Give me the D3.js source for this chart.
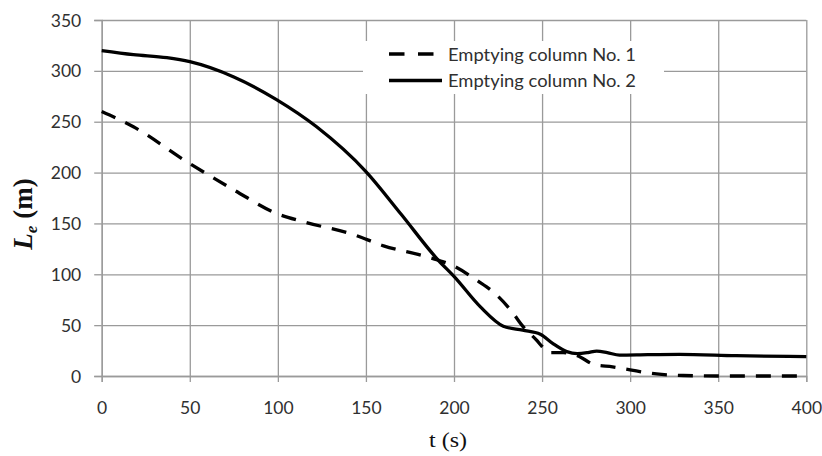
<!DOCTYPE html>
<html>
<head>
<meta charset="utf-8">
<script src="https://cdn.jsdelivr.net/npm/d3@7"></script>
<style>
  html, body { margin: 0; padding: 0; background: #fff; }
  svg { display: block; }
</style>
</head>
<body>
<svg id="chart" width="822" height="456"></svg>
<script>
// ---- data ----
const xTicks = [0, 50, 100, 150, 200, 250, 300, 350, 400];
const yTicks = [0, 50, 100, 150, 200, 250, 300, 350];
const seriesNames = ["Emptying column No. 1", "Emptying column No. 2"];

const col1T = [0, 18, 48, 75, 99, 116, 143, 160, 185, 200, 213, 224, 233, 239, 247, 250, 254, 262, 270, 280, 290, 300, 315, 330, 350, 400];
const col1L = [260, 245, 211, 183, 160, 151, 139, 128, 117, 108, 94, 80, 63, 49, 35, 29, 23, 23, 20, 11, 9, 6, 2, 0.5, 0, 0];

const col2T = [0, 18, 37, 50, 75, 99, 122, 150, 170, 191, 200, 215, 228, 239, 249, 256, 264, 270, 276, 281, 287, 294, 310, 328, 360, 400];
const col2L = [320, 316, 313, 309, 294, 272, 245, 201, 159, 114, 98, 68, 49, 45, 41, 32, 24, 22, 23, 24.5, 23, 20.5, 21, 21.3, 20, 19];

// ---- layout ----
const svg = d3.select("#chart");
const x = d3.scaleLinear().domain([0, 400]).range([101.7, 806.3]);
const y = d3.scaleLinear().domain([0, 350]).range([376, 20]);
const grid = "#9a9a9a";

// gridlines
svg.append("g")
  .attr("transform", `translate(0,${y(0)})`)
  .call(d3.axisBottom(x).tickValues(xTicks).tickSize(-(y(0) - y(350))).tickFormat(""))
  .call(g => g.select(".domain").remove())
  .call(g => g.selectAll("line").attr("stroke", grid).attr("stroke-width", 1.3));
svg.append("g")
  .attr("transform", `translate(${x(0)},0)`)
  .call(d3.axisLeft(y).tickValues(yTicks).tickSize(-(x(400) - x(0))).tickFormat(""))
  .call(g => g.select(".domain").remove())
  .call(g => g.selectAll("line").attr("stroke", grid).attr("stroke-width", 1.3));

// axes with tick marks + labels
const xAxis = svg.append("g")
  .attr("transform", `translate(0,${y(0)})`)
  .call(d3.axisBottom(x).tickValues(xTicks).tickSize(6).tickPadding(0).tickFormat(d3.format("d")));
xAxis.select(".domain").attr("stroke", grid).attr("stroke-width", 1.3);
xAxis.selectAll("line").attr("stroke", grid).attr("stroke-width", 1.3);
xAxis.selectAll("text")
  .attr("y", 38).attr("dy", null)
  .attr("font-family", "Lato, 'Open Sans', sans-serif")
  .attr("font-size", 17.5).attr("fill", "#303030");

const yAxis = svg.append("g")
  .attr("transform", `translate(${x(0)},0)`)
  .call(d3.axisLeft(y).tickValues(yTicks).tickSize(7.5).tickPadding(0).tickFormat(d3.format("d")));
yAxis.select(".domain").attr("stroke", grid).attr("stroke-width", 1.3);
yAxis.selectAll("line").attr("stroke", grid).attr("stroke-width", 1.3);
yAxis.selectAll("text")
  .attr("x", -20.5).attr("dy", "0.35em")
  .attr("font-family", "Lato, 'Open Sans', sans-serif")
  .attr("font-size", 17.5).attr("fill", "#303030");

// lines
const line = d3.line().x(d => x(d[0])).y(d => y(d[1])).curve(d3.curveMonotoneX);
const s1 = col1T.map((t, i) => [t, col1L[i]]);
const s2 = col2T.map((t, i) => [t, col2L[i]]);

svg.append("path").datum(s1)
  .attr("d", line).attr("fill", "none")
  .attr("stroke", "#000").attr("stroke-width", 3.3)
  .attr("stroke-dasharray", "15,11");
svg.append("path").datum(s2)
  .attr("d", line).attr("fill", "none")
  .attr("stroke", "#000").attr("stroke-width", 3.3);

// legend
const lg = svg.append("g");
lg.append("rect").attr("x", 363).attr("y", 41).attr("width", 301).attr("height", 53).attr("fill", "#fff");
lg.append("line").attr("x1", 389).attr("x2", 434).attr("y1", 54).attr("y2", 54)
  .attr("stroke", "#000").attr("stroke-width", 3.3).attr("stroke-dasharray", "15.5,13.5");
lg.append("line").attr("x1", 389).attr("x2", 442).attr("y1", 80.5).attr("y2", 80.5)
  .attr("stroke", "#000").attr("stroke-width", 3.3);
lg.selectAll("text.leg").data(seriesNames).join("text")
  .attr("class", "leg")
  .attr("x", 448).attr("y", (d, i) => i === 0 ? 60.5 : 86.5)
  .attr("font-family", "Lato, 'Open Sans', sans-serif")
  .attr("font-size", 17.5).attr("fill", "#303030")
  .attr("textLength", 188).attr("lengthAdjust", "spacingAndGlyphs")
  .text(d => d);

// axis titles
svg.append("text")
  .attr("x", 448).attr("y", 447)
  .attr("text-anchor", "middle")
  .attr("font-family", "'Liberation Serif', 'DejaVu Serif', serif")
  .attr("font-size", 21).attr("fill", "#111")
  .attr("textLength", 38).attr("lengthAdjust", "spacingAndGlyphs")
  .text("t (s)");

const yt = svg.append("text")
  .attr("transform", "translate(32,214) rotate(-90)")
  .attr("text-anchor", "middle")
  .attr("font-family", "'Liberation Serif', 'DejaVu Serif', serif")
  .attr("font-size", 27).attr("font-weight", "bold").attr("fill", "#111");
yt.append("tspan").attr("font-style", "italic").text("L");
yt.append("tspan").attr("font-style", "italic").attr("font-size", 17).attr("dy", 5).text("e");
yt.append("tspan").attr("dy", -5).text(" (m)");
</script>
</body>
</html>
